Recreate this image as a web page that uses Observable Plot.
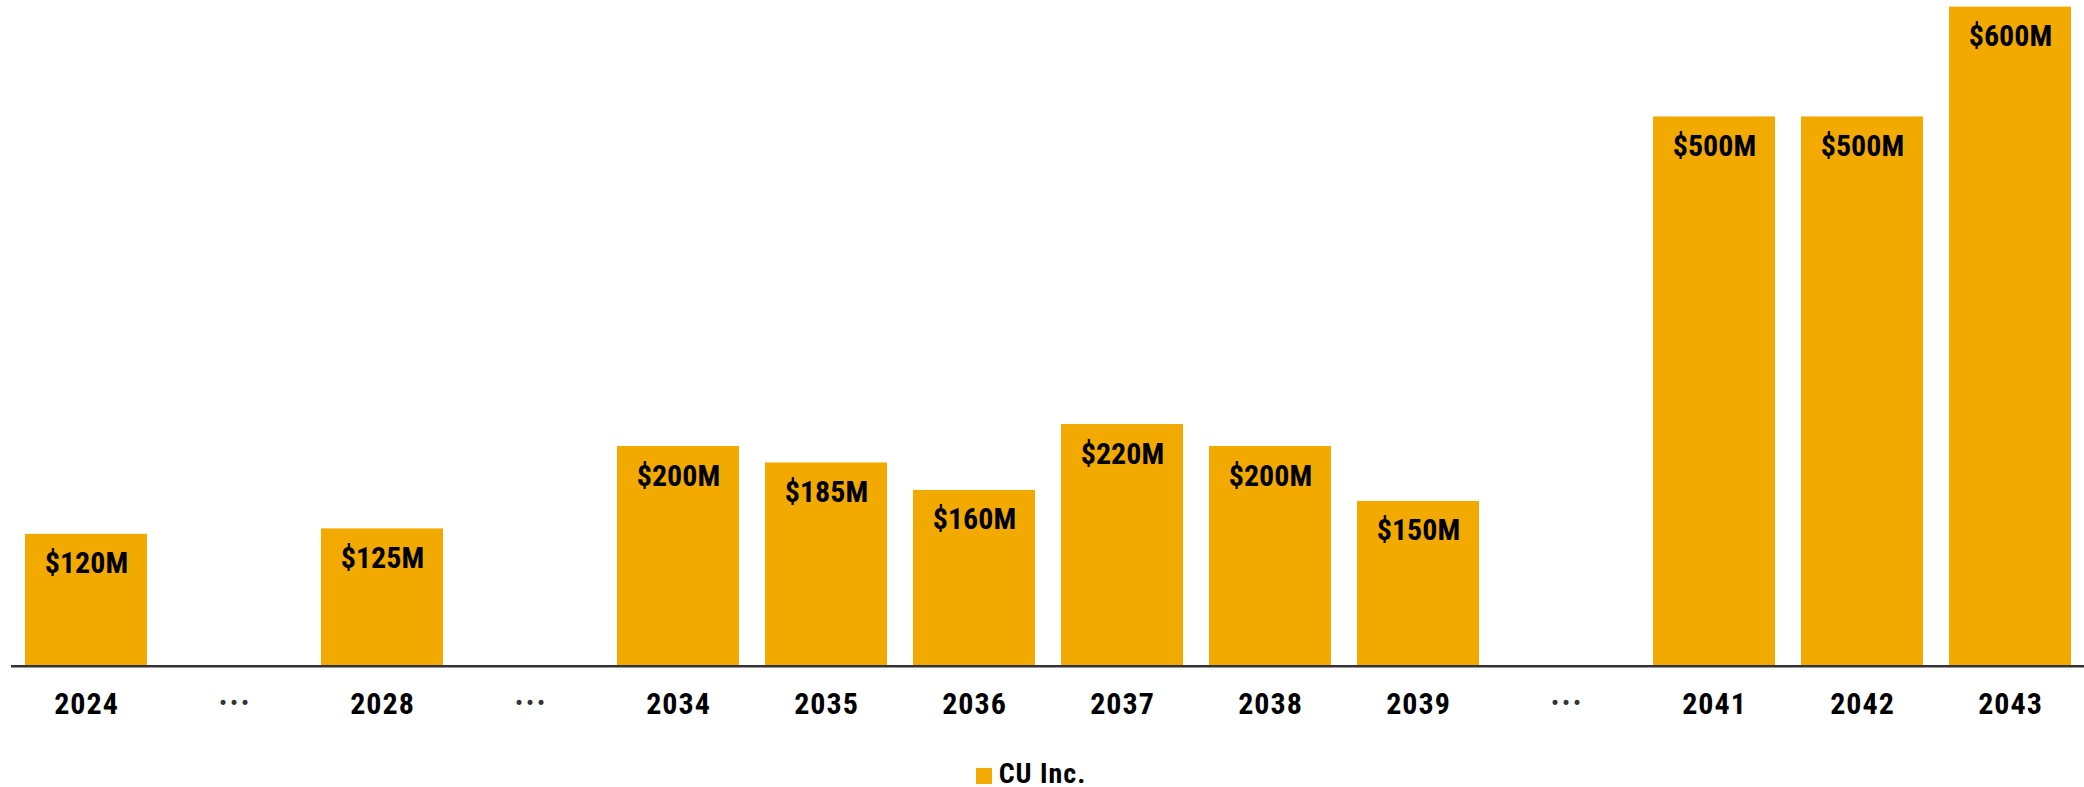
<!DOCTYPE html>
<html>
<head>
<meta charset="utf-8">
<script src="https://cdn.jsdelivr.net/npm/d3@7"></script>
<script src="https://cdn.jsdelivr.net/npm/@observablehq/plot@0.6"></script>
<style>
  html, body { margin: 0; padding: 0; background: #fff; }
  #chart svg text { letter-spacing: 1px; }
  #chart svg g.vlabels text { letter-spacing: 0px; }
  .legend { display: flex; justify-content: center; align-items: center; height: 42px; margin-top: 7px;
    font-family: "Roboto Condensed", "Liberation Sans Narrow", "DejaVu Sans Condensed", sans-serif;
    font-weight: 700; font-size: 28px; color: #000; padding-right: 22px; letter-spacing: 1px; }
  .legend .sw { width: 16px; height: 16px; background: #F2AA00; margin-right: 7px; margin-top: 6px; }
</style>
</head>
<body>
<div id="chart"></div>
<div class="legend"><span class="sw"></span><span>CU Inc.</span></div>
<script>
const slots = ["2024", "gap1", "2028", "gap2", "2034", "2035", "2036", "2037", "2038", "2039", "gap3", "2041", "2042", "2043"];
const values = [120, null, 125, null, 200, 185, 160, 220, 200, 150, null, 500, 500, 600];
const valueLabels = ["$120M", "", "$125M", "", "$200M", "$185M", "$160M", "$220M", "$200M", "$150M", "", "$500M", "$500M", "$600M"];
const seriesName = "CU Inc.";
const gapLabel = "•••";

const rows = slots.map((s, i) => ({slot: s, value: values[i], label: valueLabels[i]}));
const bars = rows.filter(d => d.value != null);
const gaps = rows.filter(d => d.value == null);

const FONT = '"Roboto Condensed", "Liberation Sans Narrow", "DejaVu Sans Condensed", sans-serif';
const COLOR = "#F2AA00";

const chart = Plot.plot({
  width: 2084,
  height: 745,
  marginLeft: 24,
  marginRight: 12,
  marginTop: 6.6,
  marginBottom: 79.3,
  style: {fontFamily: FONT, background: "#fff"},
  x: {domain: slots, paddingInner: 0.177, paddingOuter: 0, label: null},
  y: {domain: [0, 600], axis: null},
  marks: [
    Plot.barY(bars, {x: "slot", y: "value", fill: COLOR}),
    Plot.ruleY([0], {stroke: "#333", strokeWidth: 2.5, insetLeft: -13, insetRight: -12}),
    Plot.text(bars, {x: "slot", y: "value", text: "label", lineAnchor: "bottom", dy: 39,
      fontSize: 30, fontWeight: 700, fill: "#000", className: "vlabels"}),
    Plot.axisX({tickSize: 0, tickPadding: 26, fontSize: 30, fontWeight: 700, fill: "#000",
      tickFormat: d => d.startsWith("gap") ? "" : d, label: null}),
    Plot.text(gaps, {x: "slot", y: () => 0, text: () => gapLabel, lineAnchor: "bottom", dy: 43,
      fontSize: 17, fill: "#333", fontFamily: "DejaVu Sans"})
  ]
});
document.getElementById("chart").appendChild(chart);
</script>
</body>
</html>
